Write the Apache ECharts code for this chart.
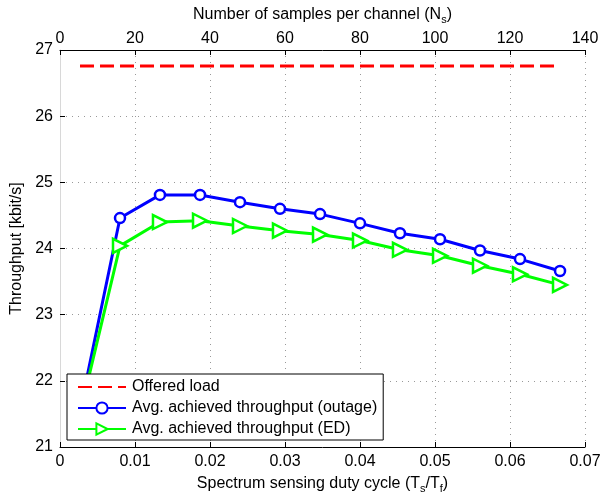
<!DOCTYPE html>
<html>
<head>
<meta charset="utf-8">
<script src="https://cdn.jsdelivr.net/npm/echarts@6/dist/echarts.min.js"></script>
<style>html,body{margin:0;padding:0;background:#fff}#c{width:600px;height:497px}</style>
</head>
<body>
<div id="c"></div>
<script>
// Duty cycle (Ts/Tf) sample points
const dutyCycle = [0.00267, 0.008, 0.01333, 0.01867, 0.024, 0.02933, 0.03467, 0.04, 0.04533, 0.05067, 0.056, 0.06133, 0.06667];
const offeredLoad = [26.76, 26.76, 26.76, 26.76, 26.76, 26.76, 26.76, 26.76, 26.76, 26.76, 26.76, 26.76, 26.76];
const outageThroughput = [21.55, 24.46, 24.81, 24.81, 24.70, 24.60, 24.52, 24.38, 24.23, 24.14, 23.97, 23.84, 23.66];
const edThroughput = [21.5, 24.04, 24.40, 24.42, 24.34, 24.27, 24.21, 24.12, 23.98, 23.89, 23.74, 23.61, 23.45];
const bottomTicks = [0, 0.01, 0.02, 0.03, 0.04, 0.05, 0.06, 0.07];
const topTicks = [0, 20, 40, 60, 80, 100, 120, 140];
const yTicks = [21, 22, 23, 24, 25, 26, 27];
const seriesNames = ['Offered load', 'Avg. achieved throughput (outage)', 'Avg. achieved throughput (ED)'];

const pair = (xs, ys) => xs.map((x, i) => [x, ys[i]]);
const font = 'Liberation Sans, Arial, Helvetica, sans-serif';
const FS = 16;
const subStyle = { fontSize: 11, fontFamily: font, color: '#000', padding: [10, 0, 0, 0] };
const chart = echarts.init(document.getElementById('c'), null, { renderer: 'canvas' });
chart.setOption({
  animation: false,
  backgroundColor: '#fff',
  textStyle: { fontFamily: font },
  grid: { left: 60, right: 15, top: 50, bottom: 50, containLabel: false, outerBoundsMode: 'none' },
  xAxis: [{
    type: 'value', position: 'bottom',
    min: bottomTicks[0], max: bottomTicks[bottomTicks.length - 1], interval: 0.01,
    name: 'Spectrum sensing duty cycle (T{sub|s}/T{sub|f})',
    nameLocation: 'middle', nameGap: 26,
    nameTextStyle: { fontSize: FS, color: '#000', fontFamily: font, rich: { sub: subStyle } },
    axisLine: { show: true, lineStyle: { color: '#000', width: 1 } },
    axisTick: { show: true, inside: true, length: 5, lineStyle: { color: '#000' } },
    axisLabel: { fontSize: FS, color: '#000', margin: 7, fontFamily: font,
      formatter: v => v === 0 ? '0' : v.toFixed(2) },
    splitLine: { show: true, lineStyle: { color: '#999', type: [1, 5], width: 1 } }
  }, {
    type: 'value', position: 'top',
    min: topTicks[0], max: topTicks[topTicks.length - 1], interval: 20,
    name: 'Number of samples per channel (N{sub|s})',
    nameLocation: 'middle', nameGap: 25,
    nameTextStyle: { fontSize: FS, color: '#000', fontFamily: font, rich: { sub: subStyle } },
    axisLine: { show: true, lineStyle: { color: '#000', width: 1 } },
    axisTick: { show: true, inside: true, length: 5, lineStyle: { color: '#000' } },
    axisLabel: { fontSize: FS, color: '#000', margin: 3, fontFamily: font },
    splitLine: { show: false }
  }],
  yAxis: {
    type: 'value', min: yTicks[0], max: yTicks[yTicks.length - 1], interval: 1,
    name: 'Throughput [kbit/s]', nameLocation: 'middle', nameGap: 30,
    nameTextStyle: { fontSize: FS, color: '#000', fontFamily: font },
    axisLine: { show: true, lineStyle: { color: '#d8d8d8', width: 1 } },
    axisTick: { show: true, inside: true, length: 5, lineStyle: { color: '#000' } },
    axisLabel: { fontSize: FS, color: '#000', margin: 7, fontFamily: font },
    splitLine: { show: true, lineStyle: { color: '#999', type: [1, 5], width: 1 } }
  },
  legend: {
    orient: 'vertical', left: 67, top: 374,
    padding: [5, 6, 3, 10],
    itemGap: 5, itemWidth: 48, itemHeight: 14,
    backgroundColor: '#fff', borderColor: '#000', borderWidth: 1,
    textStyle: { fontSize: FS, color: '#000', fontFamily: font, lineHeight: 16, padding: [0, 0, 0, 1] },
    data: [
      { name: seriesNames[0], itemStyle: { opacity: 0 } },
      { name: seriesNames[1] },
      { name: seriesNames[2] }
    ]
  },
  series: [{
    name: seriesNames[0], type: 'line', xAxisIndex: 0,
    data: pair(dutyCycle, offeredLoad),
    showSymbol: false, symbol: 'none',
    lineStyle: { color: '#ff0000', width: 3, type: [14, 6] },
    itemStyle: { color: '#ff0000' }
  }, {
    name: seriesNames[1], type: 'line', xAxisIndex: 0,
    data: pair(dutyCycle, outageThroughput),
    symbol: 'circle', symbolSize: 10,
    lineStyle: { color: '#0000ff', width: 3 },
    itemStyle: { color: '#fff', borderColor: '#0000ff', borderWidth: 2.5 }
  }, {
    name: seriesNames[2], type: 'line', xAxisIndex: 0,
    data: pair(dutyCycle, edThroughput),
    symbol: 'triangle', symbolSize: 14, symbolRotate: -90,
    lineStyle: { color: '#00ff00', width: 3 },
    itemStyle: { color: '#fff', borderColor: '#00ff00', borderWidth: 2.5 }
  }]
});
</script>
</body>
</html>
